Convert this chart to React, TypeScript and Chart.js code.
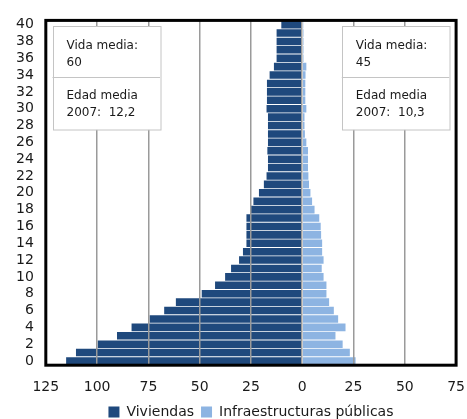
import React, { useEffect, useRef } from 'react';
import { Chart, registerables } from 'chart.js';

Chart.register(...registerables);

const ages = ['0','1','2','3','4','5','6','7','8','9','10','11','12','13','14','15','16','17','18','19','20','21','22','23','24','25','26','27','28','29','30','31','32','33','34','35','36','37','38','39','40'];

const viviendas = [115.1, 110.3, 99.7, 90.3, 83.2, 74.4, 67.3, 61.6, 49.0, 42.5, 37.6, 34.7, 30.8, 28.9, 27.2, 27.2, 27.2, 27.2, 25.1, 23.8, 21.1, 18.7, 17.4, 16.7, 16.7, 17.0, 16.7, 16.7, 16.7, 16.7, 17.4, 17.2, 17.2, 17.2, 15.9, 13.8, 12.5, 12.5, 12.5, 12.5, 10.2];

const infraestructuras = [26.0, 23.2, 19.7, 16.2, 21.1, 17.5, 15.4, 13.1, 11.8, 11.8, 10.4, 9.5, 10.4, 9.7, 9.7, 9.2, 9.0, 8.3, 6.0, 4.8, 4.0, 3.3, 3.0, 2.8, 2.8, 2.8, 2.0, 1.3, 1.1, 1.1, 2.0, 1.5, 1.5, 1.5, 1.6, 2.0, 0.6, 0.6, 0.6, 0.6, 0.5];

const seriesNames = ['Viviendas', 'Infraestructuras públicas'];
const xMin = -125;
const xMax = 75;
const xStep = 25;

const boxLeftLines = ['Vida media:', '60', 'Edad media', '2007:  12,2'];
const boxRightLines = ['Vida media:', '45', 'Edad media', '2007:  10,3'];

const FONT = '"DejaVu Sans", sans-serif';

const framePlugin = {
  id: 'frameAndNotes',
  afterDraw(chart: any) {
    const { ctx, chartArea: a } = chart;
    ctx.save();
    const drawBox = (x: number, lines: string[]) => {
      const top = a.top + 6;
      const w = 107.5;
      const h = 103.5;
      ctx.fillStyle = '#ffffff';
      ctx.fillRect(x, top, w, h);
      ctx.strokeStyle = '#c4c4c4';
      ctx.lineWidth = 1;
      ctx.strokeRect(Math.round(x) + 0.5, Math.round(top) + 0.5, w, h);
      ctx.beginPath();
      ctx.moveTo(x, Math.round(top + 51) + 0.5);
      ctx.lineTo(x + w, Math.round(top + 51) + 0.5);
      ctx.stroke();
      ctx.fillStyle = '#1a1a1a';
      ctx.font = '12px ' + FONT;
      ctx.textBaseline = 'middle';
      ctx.textAlign = 'left';
      const ys = [25, 42.5, 75, 92];
      lines.forEach((t, i) => ctx.fillText(t, x + 14, a.top + ys[i]));
    };
    drawBox(a.left + 6.7, boxLeftLines);
    drawBox(a.right - 114.3, boxRightLines);
    ctx.strokeStyle = '#000000';
    ctx.lineWidth = 3;
    ctx.strokeRect(a.left, a.top, a.right - a.left, a.bottom - a.top);
    ctx.restore();
  },
};

export default function App() {
  const ref = useRef<HTMLCanvasElement | null>(null);

  useEffect(() => {
    document.body.style.margin = '0';
    const canvas = ref.current;
    if (!canvas) return;
    const chart = new Chart(canvas, {
      type: 'bar',
      data: {
        labels: ages,
        datasets: [
          {
            label: seriesNames[0],
            data: viviendas.map((v) => -v),
            backgroundColor: '#1f497d',
            borderWidth: 0,
            barPercentage: 0.9,
            categoryPercentage: 1,
          },
          {
            label: seriesNames[1],
            data: infraestructuras,
            backgroundColor: '#8db4e2',
            borderWidth: 0,
            barPercentage: 0.9,
            categoryPercentage: 1,
          },
        ],
      },
      options: {
        indexAxis: 'y',
        responsive: false,
        animation: false,
        layout: { padding: { left: 4, right: 2, top: 18, bottom: -10 } },
        plugins: {
          tooltip: { enabled: false },
          legend: {
            position: 'bottom',
            fullSize: false,
            labels: {
              boxWidth: 11,
              boxHeight: 11,
              padding: 7,
              color: '#1a1a1a',
              font: { family: FONT, size: 14 },
            },
          },
        },
        scales: {
          x: {
            type: 'linear',
            stacked: true,
            min: xMin,
            max: xMax,
            ticks: {
              stepSize: xStep,
              padding: 2,
              color: '#1a1a1a',
              font: { family: FONT, size: 14 },
              callback: (v: any) => String(Math.abs(Number(v))),
            },
            grid: {
              color: '#9a9a9a',
              lineWidth: 1.5,
              drawTicks: true,
              tickLength: 12,
              tickColor: 'rgba(0,0,0,0)',
              z: 1,
            },
            border: { display: false },
          },
          y: {
            type: 'category',
            stacked: true,
            reverse: true,
            ticks: {
              autoSkip: false,
              padding: 12,
              color: '#1a1a1a',
              font: { family: FONT, size: 14 },
              callback: (_v: any, i: number) => (i % 2 === 0 ? ages[i] : ''),
            },
            grid: { display: false, drawTicks: false },
            border: { display: false },
          },
        },
      },
      plugins: [framePlugin],
    } as any);
    return () => chart.destroy();
  }, []);

  return (
    <div style={{ width: 467, height: 419 }}>
      <canvas ref={ref} width={467} height={419} style={{ display: 'block' }} />
    </div>
  );
}
